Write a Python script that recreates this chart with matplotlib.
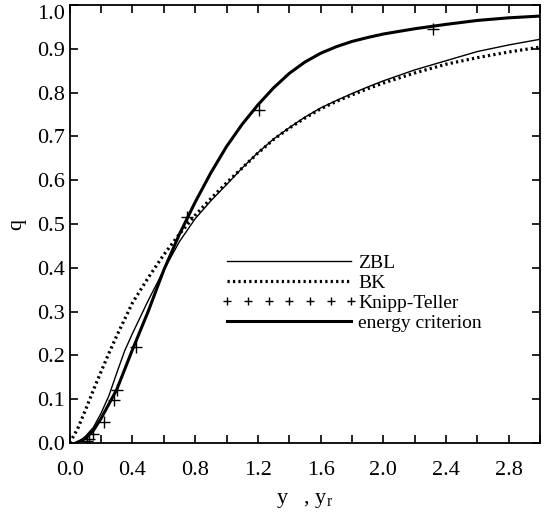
import numpy as np
import matplotlib.pyplot as plt
from matplotlib.lines import Line2D
from matplotlib.ticker import MultipleLocator

plt.rcParams['font.family'] = ['Liberation Serif', 'DejaVu Serif']
plt.rcParams['mathtext.fontset'] = 'custom'
plt.rcParams['mathtext.rm'] = 'Liberation Serif'
plt.rcParams['mathtext.it'] = 'Liberation Serif:italic'

# curves
zbl_x = [0.05, 0.1, 0.15, 0.2, 0.25, 0.3, 0.35, 0.4, 0.5, 0.6, 0.7, 0.8, 0.9, 1.0,
         1.1, 1.2, 1.3, 1.4, 1.5, 1.6, 1.7, 1.8, 1.9, 2.0, 2.2, 2.4, 2.6, 2.8, 3.0]
zbl_y = [0.0, 0.015, 0.035, 0.068, 0.108, 0.16, 0.21, 0.25, 0.325, 0.395, 0.46,
         0.512, 0.553, 0.59, 0.628, 0.663, 0.694, 0.72, 0.744, 0.765, 0.782, 0.798,
         0.813, 0.827, 0.852, 0.873, 0.894, 0.909, 0.922]

bk_x = [0.0, 0.05, 0.1, 0.15, 0.2, 0.25, 0.3, 0.4, 0.5, 0.6, 0.7, 0.8, 0.9, 1.0,
        1.1, 1.2, 1.3, 1.4, 1.5, 1.6, 1.7, 1.8, 1.9, 2.0, 2.2, 2.4, 2.6, 2.8, 3.0]
bk_y = [0.0, 0.032, 0.075, 0.12, 0.163, 0.205, 0.245, 0.32, 0.377, 0.43, 0.477,
        0.52, 0.558, 0.594, 0.628, 0.662, 0.693, 0.719, 0.742, 0.763, 0.78, 0.795,
        0.809, 0.822, 0.845, 0.865, 0.88, 0.893, 0.904]

en_x = [0.04, 0.1, 0.15, 0.2, 0.3, 0.4, 0.5, 0.6, 0.7, 0.8, 0.9, 1.0, 1.1, 1.2, 1.3,
        1.4, 1.5, 1.6, 1.7, 1.8, 1.9, 2.0, 2.2, 2.4, 2.6, 2.8, 3.0]
en_y = [0.0, 0.01, 0.028, 0.056, 0.122, 0.213, 0.30, 0.395, 0.477, 0.55, 0.617,
        0.677, 0.728, 0.772, 0.811, 0.844, 0.87, 0.89, 0.905, 0.917, 0.926, 0.934,
        0.946, 0.956, 0.965, 0.971, 0.975]

kt_x = [0.11, 0.12, 0.15, 0.22, 0.28, 0.30, 0.42, 0.75, 1.21, 2.32]
kt_y = [0.005, 0.01, 0.02, 0.048, 0.098, 0.12, 0.22, 0.515, 0.76, 0.945]

fig = plt.figure(figsize=(5.45, 5.12), dpi=100)
ax = fig.add_axes([0.128, 0.135, 0.863, 0.855])

thin = dict(c='k', lw=1.0)
dots = dict(c='k', lw=2.3, ls=(0, (0.7, 1.0)))
thick = dict(c='k', lw=2.2)

ax.plot(zbl_x, zbl_y, **thin)
ax.plot(bk_x, bk_y, **dots)
ax.plot(kt_x, kt_y, c='k', ls='none', marker='+', ms=8, mew=1.0)
ax.plot(en_x, en_y, **thick)

handles = [
    Line2D([], [], **thin),
    Line2D([], [], **dots),
    Line2D([], [], c='k', ls='none', marker='+', ms=6, mew=1.0),
    Line2D([], [], **thick),
]
labels = ["ZBL", "BK", "Knipp-Teller", "energy criterion"]
ax.legend(handles, labels, loc='upper left', bbox_to_anchor=(0.322, 0.43),
          frameon=False, fontsize=14, handlelength=7.0, handletextpad=0.05,
          labelspacing=0.12, numpoints=7, borderpad=0.0, borderaxespad=0.0)

ax.set_xlim(0, 3.0)
ax.set_ylim(0, 1.0)
ax.set_yticks(np.round(np.arange(0, 1.01, 0.1), 1))
ax.xaxis.set_major_locator(MultipleLocator(0.4))
ax.xaxis.set_minor_locator(MultipleLocator(0.2))
ax.xaxis.set_major_formatter(lambda v, p: f"{v:.1f}")
ax.yaxis.set_major_formatter(lambda v, p: f"{v:.1f}")
ax.tick_params(which='both', direction='in', top=True, right=True, labelsize=16,
               width=1.2, length=6)
ax.tick_params(axis='x', pad=13)
for s in ax.spines.values():
    s.set_linewidth(1.3)
# keep the top label inside the picture
ax.yaxis.get_major_ticks()[10].label1.set_va('top')

ax.set_ylabel("q", fontsize=16, labelpad=8)
ax.set_xlabel(r"y   , y$_{\rm r}$", fontsize=16, labelpad=8)

fig.savefig("out.png", dpi=100)
